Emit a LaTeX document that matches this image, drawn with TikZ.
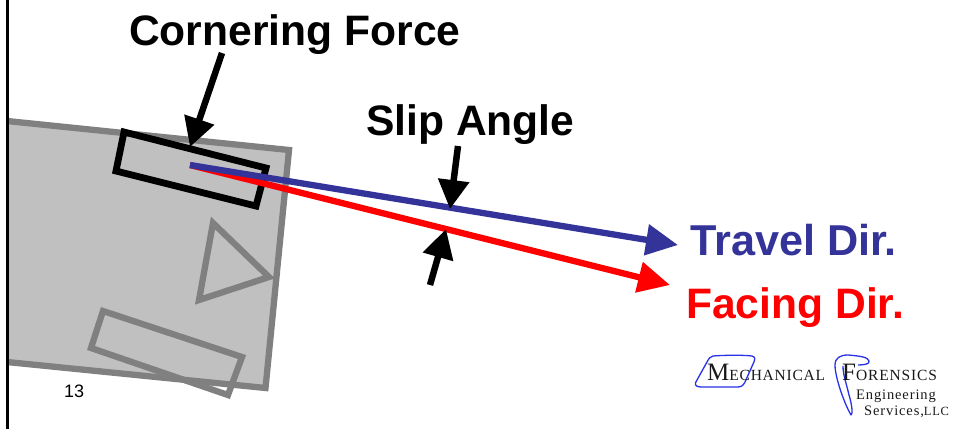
\documentclass[tikz,border=0pt]{standalone}
\usepackage{fontspec}
\setmainfont{Liberation Sans}
\newfontfamily\logofont{Liberation Serif}
\newfontfamily\logospaced[LetterSpace=6]{Liberation Serif}
\usetikzlibrary{arrows.meta}
\definecolor{bodyfill}{RGB}{192,192,192}
\definecolor{bodyline}{RGB}{128,128,128}
\definecolor{traveldir}{RGB}{51,51,153}
\definecolor{facingdir}{RGB}{255,0,0}
\definecolor{logoblue}{RGB}{40,50,230}
\tikzset{
  lbl/.style={inner sep=0pt,anchor=base west,font=\bfseries\fontsize{42.6}{44}\selectfont},
  logotext/.style={inner sep=0pt,anchor=base west,text=black!90},
  outlinegray/.style={draw=bodyline,line width=6.3pt,line join=miter},
  callout/.style={draw=black,line width=6.5pt,-{Triangle[length=29pt,width=30pt]}},
  dirline/.style={line width=6.3pt,-{Triangle[length=32pt,width=30pt]}},
  swoosh/.style={draw=logoblue,line width=1.3pt,line join=round}
}
\begin{document}
\begin{tikzpicture}[x=1pt,y=-1pt]
\useasboundingbox (0,0) rectangle (955,429);
% vehicle body
\draw[outlinegray,fill=bodyfill] (7,121) -- (289,150) -- (265.5,388) -- (7,362);
\draw[outlinegray] (213,223) -- (269,277) -- (199,300) -- cycle;
\draw[outlinegray] (103,311) -- (242,357) -- (228,395) -- (91,348) -- cycle;
\draw[black,line width=2.8pt] (7.5,0) -- (7.5,429);
\draw[black,line width=6.8pt] (124,132) -- (266,168) -- (256,206) -- (116,171) -- cycle;
% direction arrows
\coordinate (origin) at (190,165);
\coordinate (traveltip) at (678,245);
\coordinate (facingtip) at (670,285);
\draw[dirline,draw=facingdir,fill=facingdir] (origin) -- (facingtip);
\draw[dirline,draw=traveldir,fill=traveldir] (origin) -- (traveltip);
% callouts
\coordinate (cfstart) at (222,53);
\coordinate (cftip) at (190,147);
\coordinate (slipstart) at (458,146);
\coordinate (sliptip) at (450,209);
\coordinate (upstart) at (430,285);
\coordinate (uptip) at (446,229);
\draw[callout] (cfstart) -- (cftip);
\draw[callout] (slipstart) -- (sliptip);
\draw[callout] (upstart) -- (uptip);
% labels
\node[lbl] (cornering) at (129,45) {Cornering Force};
\node[lbl] (slip) at (366,135) {Slip Angle};
\node[lbl,text=traveldir,font=\bfseries\fontsize{43.2}{44}\selectfont] (travel) at (690,255) {Travel Dir.};
\node[lbl,text=facingdir] (facing) at (686,318) {Facing Dir.};
\node[inner sep=0pt,anchor=base west,font=\fontsize{18}{20}\selectfont] (pagenum) at (64,397) {13};
% logo
\draw[swoosh] (713,356) .. controls (725,355) and (745,355) .. (752,356) .. controls (756,357) and (755,360) .. (753,364) -- (745,382) .. controls (743,386) and (741,387) .. (737,387) -- (701,387) .. controls (695,387) and (694,384) .. (697,380) -- (707,362) .. controls (709,358) and (710,357) .. (713,356);
\draw[swoosh] (858,365) .. controls (864,365) and (870,364) .. (869,361) .. controls (868,357) and (860,356) .. (848,355) .. controls (840,355) and (835,358) .. (835,365) .. controls (835,378) and (845,405) .. (851,415) .. controls (853,414) and (852,405) .. (849,395) .. controls (846,382) and (843,375) .. (843,366);
\node[logotext] (mech) at (707,380) {\logofont\fontsize{25}{26}\selectfont M\fontsize{15.5}{16}\addfontfeature{LetterSpace=5}\selectfont ECHANICAL};
\node[logotext] (forens) at (842,380) {\logofont\fontsize{25}{26}\selectfont F\fontsize{15.5}{16}\addfontfeature{LetterSpace=5.5}\selectfont ORENSICS};
\node[logotext] (eng) at (856,399) {\logospaced\fontsize{14.5}{16}\selectfont Engineering};
\node[logotext] (serv) at (864,415) {\logospaced\fontsize{14.5}{16}\selectfont Services,{\fontsize{12.5}{12}\selectfont LLC}};
\end{tikzpicture}
\end{document}
